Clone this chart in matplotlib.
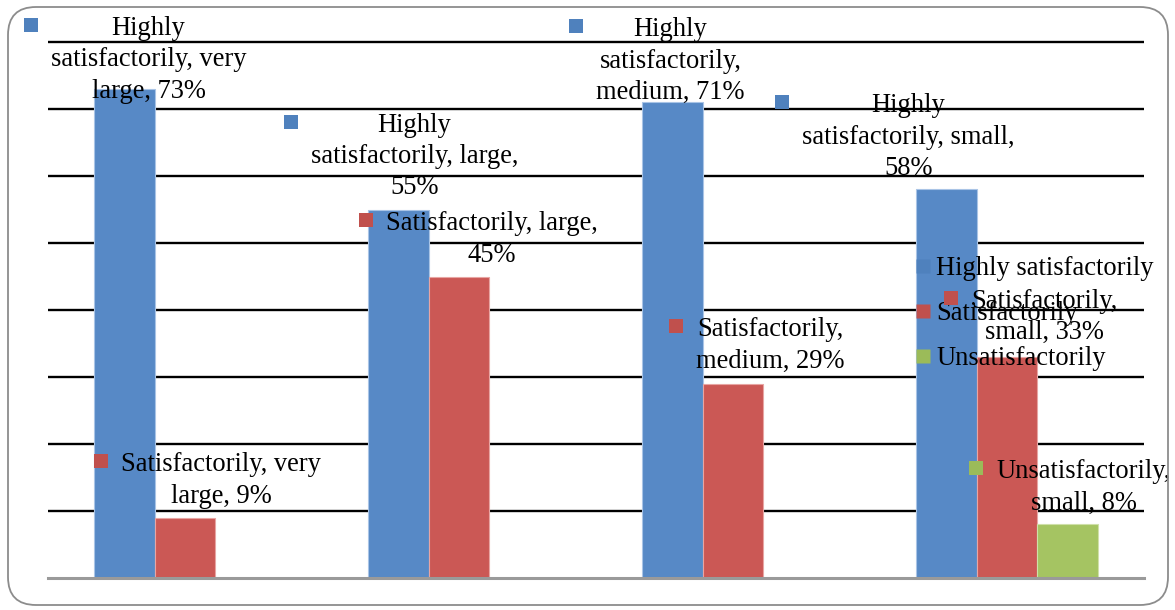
import matplotlib
matplotlib.use("Agg")
import matplotlib.pyplot as plt
import numpy as np
from matplotlib.patches import FancyBboxPatch, Rectangle
from matplotlib.lines import Line2D
from matplotlib.transforms import IdentityTransform

# ---- data ----
categories = ["very large", "large", "medium", "small"]
series_names = ["Highly satisfactorily", "Satisfactorily", "Unsatisfactorily"]
highly_satisfactorily = [73, 55, 71, 58]
satisfactorily = [9, 45, 29, 33]
unsatisfactorily = [0, 0, 0, 8]

# ---- styling ----
series_values = [highly_satisfactorily, satisfactorily, unsatisfactorily]
series_colors = ["#5789C6", "#CB5855", "#A5C462"]
key_colors = ["#4F81BD", "#C0504D", "#9BBB59"]
edge_colors = ["#A9C4E6", "#E8A5A3", "#CFE0A9"]

# word index after which each data label wraps, and label offset in pixels
label_breaks = {
    (0, 0): (1, 3), (0, 1): (1, 3), (0, 2): (1, 2), (0, 3): (1, 3),
    (1, 0): (2,), (1, 1): (2,), (1, 2): (1,), (1, 3): (1,),
    (2, 3): (1,),
}
label_offsets = {
    (0, 0): (24, 29), (0, 1): (16, 53), (0, 2): (-2, 41), (0, 3): (-38, 52),
    (1, 0): (36, 37), (1, 1): (33, 37), (1, 2): (37, 38), (1, 3): (37, 40),
    (2, 3): (16, 37),
}

W, H, DPI = 1175, 610, 100
FONT = "Liberation Serif"
FS = 19.1
YMAX = 81  # a little headroom so the top grid line is not clipped

fig = plt.figure(figsize=(W / DPI, H / DPI), dpi=DPI)
fig.patch.set_facecolor("white")

# rounded outer frame (display pixels)
frame = FancyBboxPatch((8, 5), 1160, 598, boxstyle="round,pad=0,rounding_size=28",
                       transform=IdentityTransform(), facecolor="none",
                       edgecolor="#8C8C8C", linewidth=1.3)
fig.patches.append(frame)

px_per_unit = (578 - 42) / 80
ax = fig.add_axes([48 / W, 32 / H, (1144 - 48) / W, px_per_unit * YMAX / H])
ax.set_xlim(-0.5, len(categories) - 0.5)
ax.set_ylim(0, YMAX)
ax.set_yticks(np.arange(10, 81, 10))
ax.set_axisbelow(True)
ax.yaxis.grid(True, color="black", linewidth=1.7)
ax.tick_params(left=False, bottom=False, labelleft=False, labelbottom=False)
for side in ("left", "right", "top"):
    ax.spines[side].set_visible(False)
ax.spines["bottom"].set_color("#9A9A9A")
ax.spines["bottom"].set_linewidth(2.2)
ax.set_facecolor("none")

bw = 0.2208
x = np.arange(len(categories))
bar_x = []
for s, vals in enumerate(series_values):
    xs = x + (s - 1) * bw
    bar_x.append(xs)
    ax.bar(xs, vals, width=bw, color=series_colors[s], edgecolor=edge_colors[s],
           linewidth=0.8, zorder=2)

# data labels with series keys
annotations = []
for (s, i), breaks in label_breaks.items():
    v = series_values[s][i]
    words = f"{series_names[s]}, {categories[i]}, {v}%".split(" ")
    lines, start = [], 0
    for b in list(breaks) + [len(words)]:
        lines.append(" ".join(words[start:b]))
        start = b
    ann = ax.annotate("\n".join(lines), xy=(bar_x[s][i], v),
                      xytext=label_offsets[(s, i)], textcoords="offset pixels",
                      ha="center", va="center", multialignment="center",
                      fontsize=FS, family=FONT, color="black", zorder=5,
                      linespacing=1.34, annotation_clip=False)
    annotations.append((s, ann))

fig.canvas.draw()
renderer = fig.canvas.get_renderer()
for s, ann in annotations:
    bb = ann.get_window_extent(renderer)
    cx, cy = bb.x0 - 20, bb.y1 - 9
    fig.patches.append(Rectangle((cx - 7, cy - 7), 14, 14, transform=IdentityTransform(),
                                 facecolor=key_colors[s], edgecolor="none", zorder=6))

handles = [Line2D([], [], marker="s", linestyle="none", markersize=10,
                  markerfacecolor=c, markeredgecolor="none") for c in key_colors]
ax.legend(handles, series_names, loc="center left",
          bbox_to_anchor=(916 / W, 296.5 / H), bbox_transform=fig.transFigure,
          frameon=False, prop={"family": FONT, "size": FS},
          handlelength=0.54, handletextpad=0.23, borderpad=0, borderaxespad=0,
          labelspacing=0.75)

fig.savefig("out.png", dpi=DPI, facecolor="white")
